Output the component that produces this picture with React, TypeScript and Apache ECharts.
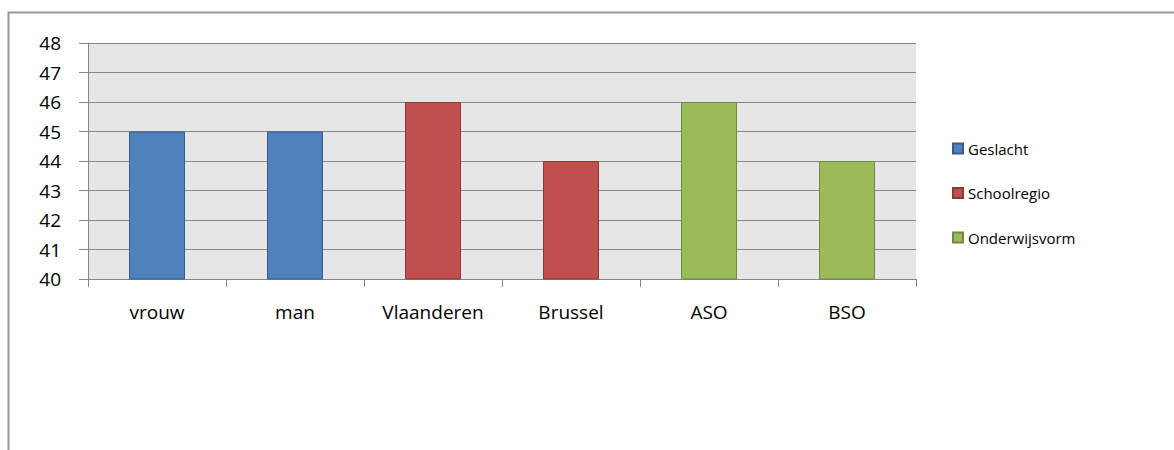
import React, { useEffect, useRef } from "react";
import * as echarts from "echarts";

// Categories on the x axis
const categories = ["vrouw", "man", "Vlaanderen", "Brussel", "ASO", "BSO"];

// Series values per category (null where a series has no bar)
const geslacht = [45, 45, null, null, null, null];
const schoolregio = [null, null, 46, 44, null, null];
const onderwijsvorm = [null, null, null, null, 46, 44];

const seriesNames = ["Geslacht", "Schoolregio", "Onderwijsvorm"];

// Value axis range
const yMin = 40;
const yMax = 48;
const yStep = 1;

const FONT = "'Open Sans', 'Liberation Sans', sans-serif";

export default function App() {
  const ref = useRef<HTMLDivElement>(null);

  useEffect(() => {
    if (!ref.current) return;
    const chart = echarts.init(ref.current, null, { renderer: "svg" });

    const mkSeries = (name: string, data: (number | null)[], fill: string, edge: string) => ({
      name,
      type: "bar",
      data,
      barWidth: 56,
      barGap: "-100%",
      itemStyle: { color: fill, borderColor: edge, borderWidth: 1 },
    });

    chart.setOption({
      animation: false,
      backgroundColor: "#ffffff",
      textStyle: { fontFamily: FONT },
      graphic: [
        {
          type: "rect",
          shape: { x: 8.5, y: 12.5, width: 1200, height: 500 },
          style: { fill: "none", stroke: "#999999", lineWidth: 2 },
          silent: true,
        },
      ],
      grid: {
        left: 88,
        top: 43,
        right: 258,
        bottom: 171,
        show: true,
        backgroundColor: "#e6e6e6",
        borderWidth: 0,
      },
      legend: {
        orient: "vertical",
        left: 952,
        top: 141,
        padding: 0,
        itemWidth: 10,
        itemHeight: 10,
        itemGap: 29.5,
        icon: "rect",
        data: seriesNames,
        textStyle: { fontFamily: FONT, fontSize: 15, color: "#000", lineHeight: 15 },
      },
      xAxis: {
        type: "category",
        data: categories,
        axisLine: { show: true, lineStyle: { color: "#868686", width: 1 } },
        axisTick: { show: true, length: 8, lineStyle: { color: "#868686", width: 1 } },
        axisLabel: { color: "#000", fontSize: 19, fontFamily: FONT, margin: 23 },
        splitLine: { show: false },
      },
      yAxis: {
        type: "value",
        min: yMin,
        max: yMax,
        interval: yStep,
        axisLine: { show: true, lineStyle: { color: "#868686", width: 1 } },
        axisTick: { show: true, length: 9, lineStyle: { color: "#868686", width: 1 } },
        axisLabel: { color: "#000", fontSize: 19, fontFamily: FONT, margin: 27 },
        splitLine: { show: true, lineStyle: { color: "#868686", width: 1 } },
      },
      series: [
        mkSeries(seriesNames[0], geslacht, "#4f81bd", "#385d8a"),
        mkSeries(seriesNames[1], schoolregio, "#c0504d", "#8c3836"),
        mkSeries(seriesNames[2], onderwijsvorm, "#9bbb59", "#71893f"),
      ],
    });

    return () => chart.dispose();
  }, []);

  return (
    <div
      ref={ref}
      style={{ position: "fixed", left: 0, top: 0, width: 1174, height: 450 }}
    />
  );
}
